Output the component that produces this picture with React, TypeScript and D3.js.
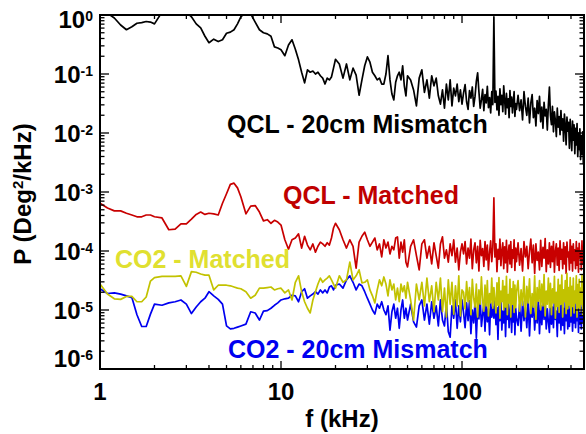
import React from 'react'
import * as d3 from 'd3'

// frequency grid (kHz), shared by the four spectra
const freqKHz = [
  1.0, 1.1, 1.2, 1.3, 1.4, 1.5, 1.6, 1.7, 1.8, 1.9, 2.0,
  2.2, 2.4, 2.6, 2.8, 3.0, 3.2, 3.4, 3.6, 3.8, 4.0,
  4.25, 4.5, 4.75, 5.0, 5.25, 5.5, 5.75, 6.0,
  6.4, 6.8, 7.2, 7.6, 8.0, 8.4, 8.8, 9.2, 9.6,
  10, 10.5, 11, 11.5, 12, 12.5, 13, 13.5, 14, 14.5, 15, 15.5, 16, 16.5, 17, 17.5, 18, 18.5, 19, 19.5,
  20, 21, 22, 23, 24, 25, 26, 27, 28, 29, 30,
  31, 32, 33, 34, 35, 36, 37, 38, 39, 40, 41, 42, 43, 44, 45, 46, 47, 48, 49, 50,
  52, 54, 56, 58, 60, 62, 64, 66, 68, 70, 72, 74, 76, 78, 80, 82, 84, 86, 88, 90, 92, 94, 96, 98, 100,
  102, 104, 106, 108, 110, 112, 114, 116, 118, 120, 122, 124, 126, 128, 130, 132, 134, 136, 138, 140, 142, 144, 146, 148,
  150,
  152, 154, 156, 158, 160, 162, 164, 166, 168, 170, 172, 174, 176, 178, 180, 182, 184, 186, 188, 190, 192, 194, 196, 198, 200,
  204, 208, 212, 216, 220, 224, 228, 232, 236, 240, 244, 248, 252, 256, 260, 264, 268, 272, 276, 280, 284, 288, 292, 296, 300,
  304,
  308, 312, 316, 320, 324, 328, 332, 336, 340, 344, 348, 352, 356, 360, 364, 368, 372, 376, 380, 384, 388, 392, 396, 400,
  404, 408, 412, 416, 420, 424, 428, 432, 436, 440, 444, 448, 452, 456, 460, 464, 468, 472, 476, 480,
]

// log10 of P (Deg^2/kHz)
const qclMismatchLog = [
  0.15, 0.03, -0.05, -0.17, -0.25, -0.2, -0.14, -0.13, -0.11, -0.12, -0.15,
  0.05, 0.15, 0.2, 0.15, 0.05, -0.03, -0.15, -0.22, -0.36, -0.47,
  -0.41, -0.45, -0.42, -0.31, -0.29, -0.25, -0.15, -0.03,
  0.05, 0.02, -0.12, -0.25, -0.3, -0.32, -0.36, -0.54, -0.56,
  -0.59, -0.69, -0.51, -0.42, -0.58, -0.76, -0.97, -1.15, -0.93, -0.97, -0.95, -1.0, -0.97, -1.03, -1.07, -1.17, -1.07, -1.1, -1.05, -0.9,
  -0.75, -0.83, -1.07, -0.83, -1.1, -0.9, -1.02, -1.36, -1.1, -0.86, -0.71,
  -0.8, -0.97, -1.03, -1.1, -1.07, -1.17, -1.17, -1.0, -0.69, -1.1, -1.34, -1.44, -1.14, -1.03, -0.97, -1.1, -0.86, -1.2, -1.37, -1.03,
  -1.1, -1.27, -1.54, -1.07, -0.93, -1.31, -1.1, -1.41, -1.03, -1.2, -1.07, -1.37, -1.51, -1.27, -1.58, -1.17, -1.44, -1.1, -1.54, -1.24, -1.37, -1.17, -1.47, -1.27, -1.51,
  -1.32, -1.18, -1.47, -1.6, -1.28, -1.41, -1.22, -1.55, -1.38, -1.12, -0.98, -1.3, -1.58, -1.44, -1.26, -1.62, -1.35, -1.49, -1.21, -1.57, -1.4, -1.66, -1.3, -1.52,
  -0.03,
  -1.48, -1.29, -1.61, -1.38, -1.7, -1.25, -1.52, -1.36, -1.64, -1.2, -1.45, -1.68, -1.33, -1.57, -1.42, -1.74, -1.28, -1.55, -1.39, -1.66, -1.47, -1.3, -1.72, -1.5, -1.6,
  -1.36, -1.62, -1.44, -1.78, -1.3, -1.55, -1.7, -1.41, -1.83, -1.49, -1.35, -1.74, -1.58, -1.88, -1.45, -1.67, -1.38, -1.81, -1.56, -1.92, -1.48, -1.71, -1.6, -1.95, -1.52,
  -1.22,
  -1.7, -1.86, -1.55, -1.98, -1.64, -1.79, -2.06, -1.58, -1.9, -1.72, -2.03, -1.62, -1.95, -1.76, -2.14, -1.68, -1.88, -2.2, -1.73, -1.97, -1.82, -2.26, -1.77, -2.02,
  -2.3, -1.8, -2.12, -1.86, -2.35, -1.92, -2.2, -1.84, -2.4, -2.0, -2.28, -1.93, -2.45, -2.05, -2.36, -1.98, -2.52, -2.1, -2.42, -2.18,
]

const qclMatchedLog = [
  -3.19, -3.27, -3.32, -3.32, -3.36, -3.39, -3.42, -3.42, -3.39, -3.39, -3.42,
  -3.44, -3.64, -3.63, -3.54, -3.54, -3.46, -3.38, -3.34, -3.38, -3.36,
  -3.37, -3.39, -3.19, -3.03, -2.87, -2.85, -2.93, -3.08,
  -3.37, -3.24, -3.23, -3.34, -3.49, -3.47, -3.53, -3.48, -3.51,
  -3.56, -3.81, -3.97, -3.81, -3.78, -3.71, -3.95, -3.75, -3.9, -3.98, -3.88, -4.02, -3.92, -3.85, -3.88, -3.92, -3.86, -3.9, -3.78, -3.61,
  -3.53, -3.64, -3.81, -3.95, -3.81, -3.92, -4.29, -3.85, -3.75, -3.68, -3.81,
  -3.92, -3.85, -3.78, -3.98, -3.88, -4.1, -3.81, -3.95, -3.85, -4.05, -3.92, -3.98, -3.78, -3.76, -4.12, -3.85, -4.02, -3.81, -4.19, -4.27,
  -3.92, -3.81, -4.08, -4.32, -3.88, -3.81, -4.12, -3.92, -4.22, -3.86, -4.08, -4.29, -3.88, -3.76, -4.12, -3.98, -4.19, -3.88, -4.08, -3.81, -4.19, -3.95, -4.32, -4.02, -3.88,
  -4.05, -3.84, -4.22, -3.95, -4.12, -3.8, -4.3, -3.98, -3.86, -4.2, -3.92, -4.34, -3.82, -4.08, -3.96, -4.26, -3.84, -4.15, -3.9, -4.32, -4.02, -3.83, -4.18, -3.94,
  -3.1,
  -4.1, -3.88, -4.35, -3.97, -4.14, -3.8, -4.25, -4.0, -3.86, -4.3, -3.93, -4.2, -3.82, -4.36, -4.04, -3.9, -4.22, -3.84, -4.28, -3.98, -4.12, -3.81, -4.33, -3.95, -4.18,
  -3.86, -4.24, -3.96, -4.34, -3.84, -4.1, -3.92, -4.3, -4.0, -3.8, -4.2, -3.9, -4.38, -3.88, -4.16, -4.02, -4.32, -3.82, -4.26, -3.94, -4.12, -3.79, -4.35, -3.98, -4.22,
  -3.86,
  -4.28, -3.92, -4.18, -3.84, -4.36, -4.0, -3.88, -4.24, -3.95, -4.33, -3.83, -4.14, -3.97, -4.3, -3.86, -4.22, -3.93, -4.38, -3.85, -4.1, -4.02, -4.32, -3.81, -4.2,
  -3.92, -4.34, -3.88, -4.16, -3.98, -4.3, -3.84, -4.24, -3.95, -4.36, -3.87, -4.12, -4.0, -4.32, -3.83, -4.22, -3.94, -4.28, -3.9, -4.18,
]

const co2MatchedLog = [
  -4.56, -4.73, -4.81, -4.82, -4.77, -4.77, -4.86, -4.86, -4.78, -4.51, -4.45,
  -4.43, -4.43, -4.43, -4.42, -4.6, -4.35, -4.36, -4.39, -4.41, -4.41,
  -4.66, -4.58, -4.58, -4.58, -4.59, -4.61, -4.63, -4.64,
  -4.69, -4.8, -4.75, -4.63, -4.63, -4.62, -4.61, -4.66, -4.64,
  -4.63, -4.71, -4.66, -4.83, -4.53, -4.42, -4.69, -4.86, -4.97, -5.05, -4.83, -4.69, -4.56, -4.46, -4.53, -4.49, -4.46, -4.42, -4.49, -4.56,
  -4.63, -4.42, -4.53, -4.49, -4.19, -4.49, -4.42, -4.32, -4.54, -4.53, -4.49,
  -4.66, -4.76, -4.88, -4.66, -4.49, -4.59, -4.44, -4.56, -4.76, -4.49, -4.66, -4.56, -4.83, -4.63, -4.86, -4.56, -4.69, -4.59, -4.8, -4.53,
  -4.83, -5.17, -4.56, -4.83, -4.53, -4.93, -4.46, -4.86, -4.59, -5.03, -4.53, -4.83, -4.46, -5.03, -4.63, -5.12, -4.49, -4.9, -4.53, -5.07, -4.59, -4.93, -4.42, -5.1, -4.66,
  -4.7, -4.98, -4.52, -4.86, -4.62, -5.08, -4.48, -4.8, -4.95, -4.56, -5.12, -4.66, -4.9, -4.44, -4.84, -5.02, -4.58, -4.93, -4.5, -5.1, -4.72, -4.88, -4.46, -4.97,
  -4.62,
  -4.83, -5.05, -4.54, -4.92, -4.45, -5.14, -4.68, -4.86, -4.5, -5.0, -4.6, -4.95, -4.43, -5.08, -4.74, -4.88, -4.48, -5.12, -4.64, -4.9, -4.52, -5.04, -4.58, -4.96, -4.7,
  -4.5, -5.02, -4.66, -4.92, -4.44, -5.12, -4.6, -4.88, -4.47, -5.06, -4.72, -4.95, -4.42, -5.16, -4.62, -4.85, -4.5, -5.0, -4.56, -4.93, -4.4, -5.1, -4.68, -4.9, -4.46,
  -4.96,
  -4.55, -5.08, -4.64, -4.88, -4.43, -5.14, -4.7, -4.94, -4.48, -5.04, -4.58, -4.9, -4.41, -5.12, -4.66, -4.86, -4.5, -5.06, -4.38, -4.98, -4.62, -4.92, -4.45, -5.1,
  -4.6, -4.94, -4.46, -5.05, -4.68, -4.88, -4.42, -5.12, -4.57, -4.96, -4.48, -5.02, -4.63, -4.9, -4.4, -5.08, -4.55, -4.97, -4.5, -4.92,
]

const co2MismatchLog = [
  -4.64, -4.72, -4.71, -4.73, -4.76, -4.79, -5.08, -5.28, -5.28, -5.07, -4.9,
  -4.92, -4.88, -4.86, -4.83, -4.9, -5.06, -4.95, -4.86, -4.8, -4.69,
  -4.76, -4.82, -4.9, -5.27, -5.32, -5.31, -5.29, -5.27,
  -5.24, -5.03, -5.05, -5.17, -5.02, -5.01, -4.97, -4.92, -4.88,
  -4.83, -4.81, -4.8, -4.75, -4.76, -4.86, -4.69, -4.64, -4.8, -4.76, -4.73, -4.69, -4.73, -4.66, -4.71, -4.66, -4.71, -4.61, -4.59, -4.66,
  -4.58, -4.56, -4.63, -4.49, -4.42, -4.53, -4.66, -4.56, -4.59, -4.69, -4.8,
  -4.9, -5.0, -5.07, -4.9, -4.97, -4.86, -5.0, -5.08, -4.93, -5.34, -5.03, -4.9, -5.14, -4.97, -5.31, -5.0, -4.83, -5.14, -4.97, -5.17,
  -4.9, -5.2, -5.29, -4.93, -4.83, -5.17, -4.9, -5.24, -4.86, -5.14, -4.93, -5.27, -4.83, -5.17, -5.27, -4.9, -5.37, -5.46, -4.93, -5.14, -4.83, -5.31, -4.93, -5.2, -4.83,
  -5.05, -5.3, -4.88, -5.18, -4.84, -5.4, -5.0, -5.22, -4.86, -5.48, -4.95, -5.15, -4.82, -5.28, -5.08, -4.9, -5.36, -4.85, -5.2, -4.98, -5.42, -4.88, -5.12, -4.94,
  -5.14,
  -4.82, -5.25, -4.96, -5.5, -4.9, -5.18, -4.84, -5.34, -5.02, -5.22, -4.86, -5.45, -4.94, -5.16, -4.81, -5.3, -5.05, -4.89, -5.38, -4.92, -5.2, -4.84, -5.42, -4.97, -5.14,
  -5.26, -4.9, -5.36, -4.85, -5.18, -4.96, -5.3, -4.82, -5.44, -4.93, -5.12, -4.86, -5.34, -5.0, -5.22, -4.8, -5.4, -4.92, -5.25, -4.88, -5.16, -4.84, -5.32, -4.98, -5.2,
  -5.38,
  -4.88, -5.24, -4.95, -5.3, -4.82, -5.16, -5.02, -5.45, -4.86, -5.22, -4.93, -5.34, -4.81, -5.26, -4.97, -5.4, -4.85, -5.18, -4.9, -5.32, -4.84, -5.28, -4.99, -5.2,
  -4.86, -5.36, -4.92, -5.22, -4.83, -5.3, -5.0, -5.18, -4.85, -5.38, -4.94, -5.24, -4.82, -5.32, -4.96, -5.2, -4.88, -5.28, -4.92, -5.16,
]

const seriesNames = ['QCL - 20cm Mismatch', 'QCL - Matched', 'CO2 - 20cm Mismatch', 'CO2 - Matched']
const xTickLabels = ['1', '10', '100']

const W = 586
const H = 434
const left = 100, right = 584, top = 15, bottom = 369
const font = '"Liberation Sans", Arial, Helvetica, sans-serif'

function App() {
  const x = d3.scaleLog().domain([1, 472]).range([left, right])
  const y = d3.scaleLog().domain([1e-6, 1]).range([bottom, top])

  const line = d3.line<[number, number]>()
    .x(d => x(d[0]))
    .y(d => y(Math.pow(10, d[1])))

  const mk = (vals: number[]) =>
    freqKHz.slice(0, vals.length).map((f, i) => [f, vals[i]] as [number, number])

  const series = [
    { name: seriesNames[0], vals: qclMismatchLog, color: '#000000' },
    { name: seriesNames[1], vals: qclMatchedLog, color: '#c80000' },
    { name: seriesNames[2], vals: co2MismatchLog, color: '#0000f0' },
    { name: seriesNames[3], vals: co2MatchedLog, color: '#c2c200' },
  ]

  const isMajor = (v: number) => Math.abs(Math.log10(v) - Math.round(Math.log10(v))) < 1e-6
  const xt = x.ticks()
  const yt = y.ticks()

  const labels = [
    { text: seriesNames[0], x: 227, y: 133, color: '#000000' },
    { text: seriesNames[1], x: 283, y: 204, color: '#c00000' },
    { text: seriesNames[3], x: 115, y: 268, color: '#e0e030' },
    { text: seriesNames[2], x: 228, y: 358, color: '#0000f0' },
  ]

  return (
    <svg width={W} height={H} style={{ position: 'absolute', left: 0, top: 0, background: '#fff' }}
      fontFamily={font} fontWeight="bold">
      <defs>
        <clipPath id="plotclip">
          <rect x={left} y={top} width={right - left} height={bottom - top} />
        </clipPath>
      </defs>
      <rect width={W} height={H} fill="#fff" />

      <g clipPath="url(#plotclip)">
        {series.map(s => (
          <path key={s.name} d={line(mk(s.vals)) || ''} fill="none" stroke={s.color}
            strokeWidth={1.7} strokeLinejoin="round" />
        ))}
      </g>

      {/* x ticks, bottom and top, pointing inward */}
      {xt.map((v, i) => {
        const len = isMajor(v) ? 8 : 4
        const px = x(v)
        return (
          <g key={'x' + i} stroke="#000" strokeWidth={1.3}>
            <line x1={px} x2={px} y1={bottom} y2={bottom - len} />
            <line x1={px} x2={px} y1={top} y2={top + len} />
          </g>
        )
      })}
      {/* y ticks, left and right */}
      {yt.map((v, i) => {
        const len = isMajor(v) ? 9 : 4.5
        const py = y(v)
        return (
          <g key={'y' + i} stroke="#000" strokeWidth={1.3}>
            <line x1={left} x2={left + len} y1={py} y2={py} />
            <line x1={right} x2={right - len} y1={py} y2={py} />
          </g>
        )
      })}

      <rect x={left} y={top} width={right - left} height={bottom - top} fill="none" stroke="#000" strokeWidth={2} />

      {xt.filter(isMajor).map((v, i) => (
        <text key={'xl' + i} x={x(v)} y={400} textAnchor="middle" fontSize={24} fill="#000">
          {xTickLabels[i]}
        </text>
      ))}
      {yt.filter(isMajor).map((v, i) => {
        const e = Math.round(Math.log10(v))
        const base = Math.min(367, Math.max(28, y(v) + 8.5))
        return (
          <text key={'yl' + i} x={93} y={base} textAnchor="end" fontSize={24} fill="#000">
            <tspan>10</tspan>
            <tspan dy={-7} fontSize={14}>{String(e)}</tspan>
          </text>
        )
      })}

      <text x={(left + right) / 2} y={427} textAnchor="middle" fontSize={24} fill="#000">f (kHz)</text>
      <text transform="translate(31,194) rotate(-90)" textAnchor="middle" fontSize={24} fill="#000">
        P (Deg<tspan dy={-8} fontSize={15}>2</tspan><tspan dy={8}>/kHz)</tspan>
      </text>

      {labels.map(l => (
        <text key={l.text} x={l.x} y={l.y} fontSize={25} fill={l.color}>{l.text}</text>
      ))}
    </svg>
  )
}

export default App
